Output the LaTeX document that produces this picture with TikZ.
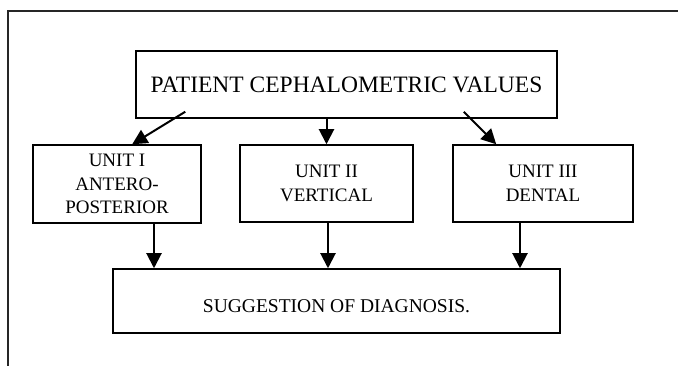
\documentclass[tikz,border=0pt]{standalone}
\usepackage{fontspec}
\setmainfont{Liberation Serif}
\usetikzlibrary{arrows.meta}

\begin{document}
\begin{tikzpicture}[x=1pt,y=1pt]
		\tikzset{
			box/.style={draw=black, line width=1.5pt, inner sep=0pt, align=center},
			unitbox/.style={box, font=\fontsize{19}{23.5}\selectfont},
			arr/.style={line width=2pt, -{Triangle[length=15pt,width=15pt]}}
		}
		\useasboundingbox (0,0) rectangle (678,-366);
		% outer frame, only top and left edge visible
		\draw [black!85, line width=1.6pt] (8,-366) -- (8,-11) -- (678,-11);
		% boxes
		\node [box, minimum width=421pt, minimum height=67pt, font=\fontsize{23.5}{28}\selectfont] (top) at (346.5,-84.5) {PATIENT CEPHALOMETRIC VALUES};
		\node [unitbox, minimum width=168pt, minimum height=78pt] (u1) at (117,-184) {UNIT I\\ANTERO-\\POSTERIOR};
		\node [unitbox, minimum width=173pt, minimum height=77pt] (u2) at (326.5,-183.5) {UNIT II\\VERTICAL};
		\node [unitbox, minimum width=180pt, minimum height=77pt] (u3) at (543,-183.5) {UNIT III\\DENTAL};
		\node [box, minimum width=447pt, minimum height=64pt, text height=24pt, text depth=0pt, font=\fontsize{19.5}{23}\selectfont] (diag) at (336.5,-301) {SUGGESTION OF DIAGNOSIS.};
		% arrows from the top box
		\coordinate (t1) at ([xshift=50pt,yshift=7pt]top.south west);
		\coordinate (t3) at ([xshift=-94pt,yshift=7pt]top.south east);
		\draw [arr] (t1) -- (u1.69);
		\draw [arr] (u2.north |- top.south) -- (u2.north);
		\draw [arr] (t3) -- (u3.140);
		% arrows into the diagnosis box
		\coordinate (b1) at ([xshift=37pt]u1.south);
		\coordinate (b2) at ([xshift=1.5pt]u2.south);
		\coordinate (b3) at ([xshift=-23pt]u3.south);
		\draw [arr] (b1) -- (b1 |- diag.north);
		\draw [arr] (b2) -- (b2 |- diag.north);
		\draw [arr] (b3) -- (b3 |- diag.north);
	\end{tikzpicture}
\end{document}
